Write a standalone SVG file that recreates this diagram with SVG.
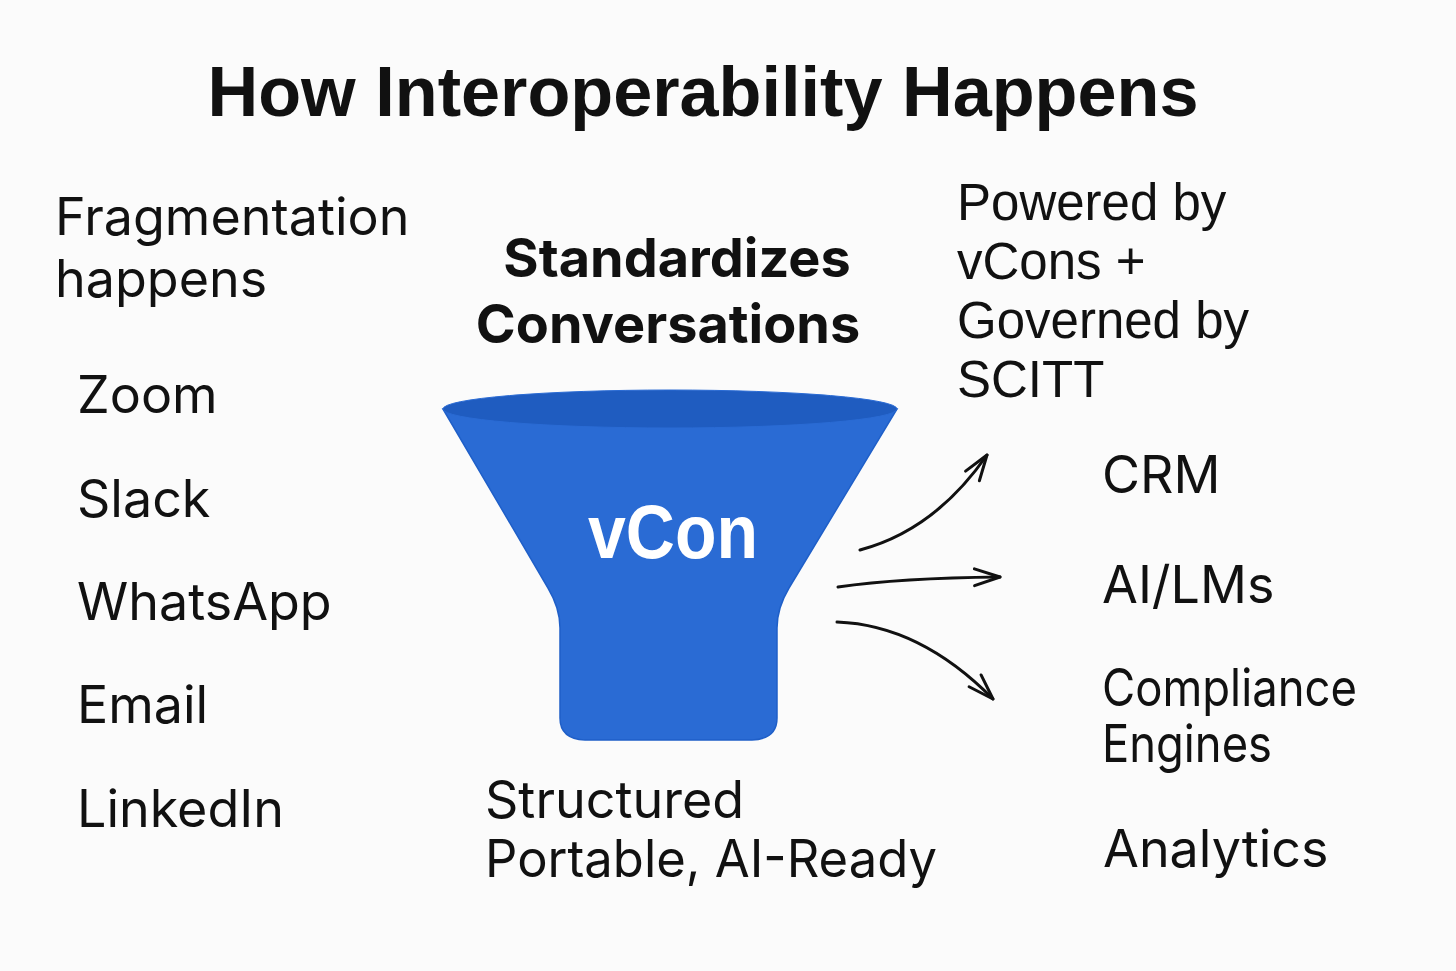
<svg xmlns="http://www.w3.org/2000/svg" width="1456" height="971" viewBox="0 0 1456 971">
<defs>
<style>
.t{font-family:Inter,"Liberation Sans",sans-serif;fill:#111;font-size:52px}
.h{font-family:"Liberation Sans",Arial,sans-serif;fill:#111;font-size:51px}
.b{font-family:Inter,"Liberation Sans",sans-serif;fill:#111;font-weight:700;font-size:54px}
.arrow{fill:none;stroke:#111;stroke-width:3;stroke-linecap:round;marker-end:url(#head)}
</style>
<marker id="head" markerUnits="strokeWidth" markerWidth="12" markerHeight="12" refX="0" refY="0" orient="auto" overflow="visible">
<path d="M-8.5,-2.8 L0,0 L-8.5,2.8" fill="none" stroke="#111" stroke-width="1" stroke-linecap="round" stroke-linejoin="round"/>
</marker>
</defs>
<rect width="1456" height="971" fill="#fbfbfb"/>
<g id="title"><text x="703" y="116" text-anchor="middle" font-family="Liberation Sans, Arial, sans-serif" font-weight="700" font-size="71" fill="#111" textLength="991" lengthAdjust="spacingAndGlyphs">How Interoperability Happens</text></g>
<g id="fragmentation"><text class="t" x="55" y="235" font-size="51">Fragmentation</text><text class="t" x="55" y="297" font-size="51">happens</text></g>
<g id="sources">
<text class="t" x="77" y="413">Zoom</text>
<text class="t" x="77" y="517">Slack</text>
<text class="t" x="77" y="620">WhatsApp</text>
<text class="t" x="77" y="723">Email</text>
<text class="t" x="77" y="827">LinkedIn</text>
</g>
<g id="standardizes"><text class="b" x="677" y="277" text-anchor="middle">Standardizes</text><text class="b" x="668" y="343" text-anchor="middle">Conversations</text></g>
<g id="funnel">
<path d="M443,409 L548,588 Q560,608 560,628 L560,718 Q560,739 585,740 L752,740 Q777,739 777,718 L777,628 Q777,608 789,588 L897,409 Z" fill="#2a6bd4" stroke="#1f5fc8" stroke-width="1.5"/>
<ellipse cx="670" cy="409" rx="227" ry="19" fill="#1f5cc0" stroke="#2a6bd4" stroke-width="1"/>
<text x="673" y="558" text-anchor="middle" font-family="Liberation Sans, Arial, sans-serif" font-weight="700" font-size="76" fill="#fff" textLength="170" lengthAdjust="spacingAndGlyphs">vCon</text>
</g>
<g id="structured"><text class="t" x="485" y="818" font-size="50">Structured</text><text class="t" x="485" y="877" font-size="50" textLength="452" lengthAdjust="spacingAndGlyphs">Portable, AI-Ready</text></g>
<g id="powered">
<text class="h" x="957" y="220">Powered by</text>
<text class="h" x="957" y="279">vCons +</text>
<text class="h" x="957" y="338">Governed by</text>
<text class="h" x="957" y="397">SCITT</text>
</g>
<g id="targets">
<text class="t" x="1102" y="493">CRM</text>
<text class="t" x="1102" y="603">AI/LMs</text>
<text class="t" x="1102" y="706" font-size="45" textLength="255" lengthAdjust="spacingAndGlyphs">Compliance</text>
<text class="t" x="1102" y="762" font-size="45" textLength="170" lengthAdjust="spacingAndGlyphs">Engines</text>
<text class="t" x="1103" y="867">Analytics</text>
</g>
<g id="connectors">
<path class="arrow" d="M860,550 Q935,530 987,455"/>
<path class="arrow" d="M838,587 Q900,578 1000,577"/>
<path class="arrow" d="M837,622 Q920,625 993,699"/>
</g>
</svg>
